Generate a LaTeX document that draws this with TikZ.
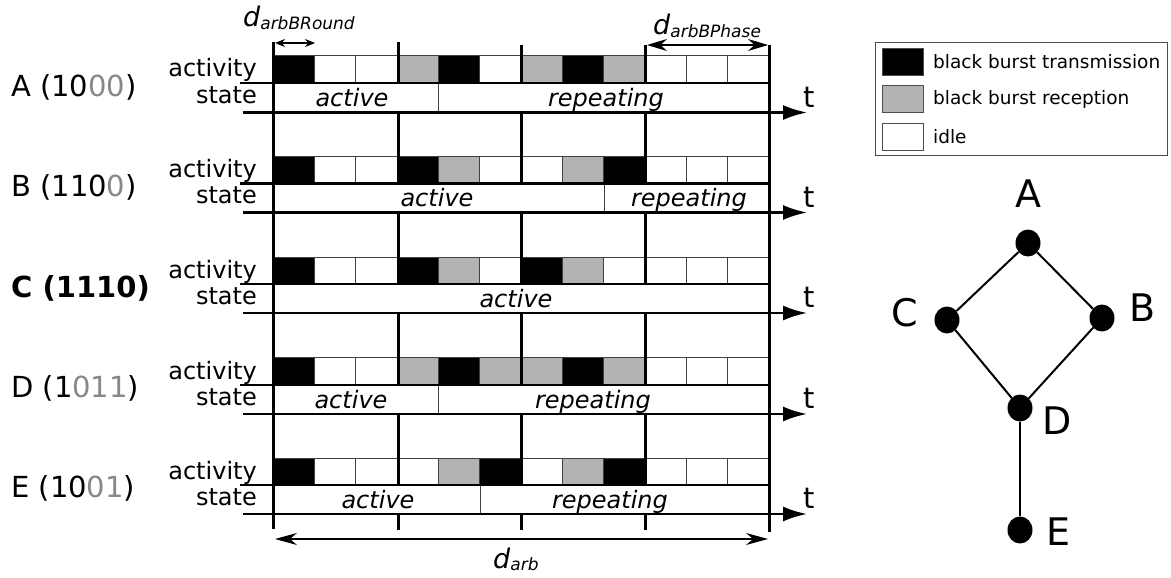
\documentclass[tikz,border=0pt]{standalone}
\usepackage{fontspec}
\setmainfont{DejaVu Sans}
\usetikzlibrary{arrows.meta,shapes.geometric}
\definecolor{bbgray}{HTML}{B3B3B3}
\definecolor{dgray}{HTML}{888888}
\newcommand\myfs[1]{\fontsize{#1}{#1}\selectfont}
\newcommand\cellrow[3]{%
  \foreach \c [count=\i from 0] in {#3}{%
    \draw[cell\c] ({273+41.333*\i},#1) rectangle ({273+41.333*(\i+1)},#2);}}
\newcommand\phaseseg[2]{%
  \draw[phaseline] (#1,#2) -- (#1,83);
  \draw[phaseline] (#1,112.5) -- (#1,183.5);
  \draw[phaseline] (#1,212.5) -- (#1,284);
  \draw[phaseline] (#1,313) -- (#1,385);
  \draw[phaseline] (#1,414) -- (#1,485);
  \draw[phaseline] (#1,514) -- (#1,530);}
\begin{document}
\begin{tikzpicture}[x=1pt,y=-1pt,
  cellK/.style={fill=black,draw=black!75,line width=0.8pt},
  cellG/.style={fill=bbgray,draw=black!75,line width=0.8pt},
  cellW/.style={fill=white,draw=black!75,line width=0.8pt},
  thickh/.style={line width=2.5pt},
  axisline/.style={line width=2.5pt,-{Latex[length=24pt,width=15pt]}},
  phaseline/.style={line width=3pt},
  divider/.style={line width=0.8pt,draw=black!75},
  rowlab/.style={inner sep=0pt,anchor=base east,font=\myfs{24}},
  statetxt/.style={inner sep=0pt,anchor=base,font=\myfs{24}\itshape},
  nodelab/.style={inner sep=0pt,anchor=base west,font=\myfs{29}},
  tlab/.style={inner sep=0pt,anchor=base west,font=\myfs{29}},
  dimarrow/.style={line width=1.2pt},
  gnode/.style={ellipse,fill=black,minimum width=25pt,minimum height=27pt,inner sep=0pt},
  glab/.style={inner sep=0pt,font=\myfs{38}},
  gedge/.style={line width=2pt},
  legtxt/.style={inner sep=0pt,anchor=west,font=\myfs{18.5}},
  legsw/.style={draw=black!70,line width=0.8pt}
]
\useasboundingbox (0,0) rectangle (1171,578);

% ---- row A ----
\cellrow{55}{83}{K,W,W,G,K,W,G,K,G,W,W,W}
\draw[divider] (438,83) -- (438,112.5);
\draw[thickh] (240,83) -- (769,83);
\draw[axisline] (243,112.5) -- (807,112.5);
\node[statetxt] (sA1) at (352,106.5) {active};
\node[statetxt] (sA2) at (606,106.5) {repeating};
\node[rowlab] (aA) at (257,77) {activity};
\node[rowlab] (stA) at (257,103.5) {state};
\node[nodelab] (lA) at (11,96) {A (10\textcolor{dgray}{00})};
\node[tlab] (tA) at (803,107) {t};

% ---- row B ----
\cellrow{156.5}{183.5}{K,W,W,K,G,W,W,G,K,W,W,W}
\draw[divider] (604,183.5) -- (604,212.5);
\draw[thickh] (240,183.5) -- (769,183.5);
\draw[axisline] (243,212.5) -- (807,212.5);
\node[statetxt] (sB1) at (437,206.5) {active};
\node[statetxt] (sB2) at (689,206.5) {repeating};
\node[rowlab] (aB) at (257,177.5) {activity};
\node[rowlab] (stB) at (257,203.5) {state};
\node[nodelab] (lB) at (11,196) {B (110\textcolor{dgray}{0})};
\node[tlab] (tB) at (803,207) {t};

% ---- row C ----
\cellrow{257}{284}{K,W,W,K,G,W,K,G,W,W,W,W}
\draw[thickh] (240,284) -- (769,284);
\draw[axisline] (243,313) -- (807,313);
\node[statetxt] (sC1) at (516,307) {active};
\node[rowlab] (aC) at (257,278) {activity};
\node[rowlab] (stC) at (257,304) {state};
\node[nodelab] (lC) at (11,297) {\bfseries C (1110)};
\node[tlab] (tC) at (803,307.5) {t};

% ---- row D ----
\cellrow{357.5}{385}{K,W,W,G,K,G,G,K,G,W,W,W}
\draw[divider] (438,385) -- (438,414);
\draw[thickh] (240,385) -- (769,385);
\draw[axisline] (243,414) -- (807,414);
\node[statetxt] (sD1) at (351,408) {active};
\node[statetxt] (sD2) at (593,408) {repeating};
\node[rowlab] (aD) at (257,379) {activity};
\node[rowlab] (stD) at (257,405) {state};
\node[nodelab] (lD) at (11,397) {D (1\textcolor{dgray}{011})};
\node[tlab] (tD) at (803,408.5) {t};

% ---- row E ----
\cellrow{458}{485}{K,W,W,W,G,K,W,G,K,W,W,W}
\draw[divider] (480,485) -- (480,514);
\draw[thickh] (240,485) -- (769,485);
\draw[axisline] (243,514) -- (807,514);
\node[statetxt] (sE1) at (378,508) {active};
\node[statetxt] (sE2) at (610,508) {repeating};
\node[rowlab] (aE) at (257,479) {activity};
\node[rowlab] (stE) at (257,505) {state};
\node[nodelab] (lE) at (11,497) {E (10\textcolor{dgray}{01})};
\node[tlab] (tE) at (803,508.5) {t};

% ---- phase boundaries ----
\draw[phaseline] (273,42) -- (273,529);
\phaseseg{398}{42}
\phaseseg{521}{45}
\phaseseg{645}{45}
\draw[phaseline] (769,45) -- (769,532);

% ---- dimension arrows ----
\coordinate (r1) at (275,43);
\coordinate (r2) at (315,43);
\draw[dimarrow,{Stealth[length=10pt,width=8pt]}-{Stealth[length=10pt,width=8pt]}] (r1) -- (r2);
\node[inner sep=0pt,anchor=base west] (dR) at (243,27) {\myfs{27}\itshape d\raisebox{-3pt}{\myfs{17}arbBRound}};

\coordinate (p1) at (647,45);
\coordinate (p2) at (768,45);
\draw[dimarrow,{Stealth[length=20pt,width=12pt]}-{Stealth[length=20pt,width=12pt]}] (p1) -- (p2);
\node[inner sep=0pt,anchor=base west] (dP) at (653,35) {\myfs{27}\itshape d\raisebox{-3pt}{\myfs{17}arbBPhase}};

\coordinate (b1) at (275,539);
\coordinate (b2) at (768,539);
\draw[dimarrow,{Stealth[length=22pt,width=12pt]}-{Stealth[length=22pt,width=12pt]}] (b1) -- (b2);
\node[inner sep=0pt,anchor=base west] (dA) at (493,568) {\myfs{27}\itshape d\raisebox{-2pt}{\myfs{17}arb}};

% ---- legend ----
\draw[draw=black!70,line width=1pt] (875,43) rectangle (1167,155);
\draw[legsw,fill=black] (882,48) rectangle (923,75);
\draw[legsw,fill=bbgray] (882,85) rectangle (923,112);
\draw[legsw,fill=white] (882,123) rectangle (923,150);
\node[legtxt] (L1) at (933,62) {black burst transmission};
\node[legtxt] (L2) at (933,99) {black burst reception};
\node[legtxt] (L3) at (933,137) {idle};

% ---- graph ----
\node[gnode] (A) at (1028,243) {};
\node[gnode] (C) at (947,320) {};
\node[gnode] (B) at (1102,318) {};
\node[gnode] (D) at (1020,408) {};
\node[gnode] (E) at (1020,530) {};
\draw[gedge] (A) -- (C);
\draw[gedge] (A) -- (B);
\draw[gedge] (C) -- (D);
\draw[gedge] (B) -- (D);
\draw[gedge] (D) -- (E);
\node[glab] (nA) at (1028,194) {A};
\node[glab] (nC) at (905,313) {C};
\node[glab] (nB) at (1143,308) {B};
\node[glab] (nD) at (1057,421) {D};
\node[glab] (nE) at (1058,532) {E};
\end{tikzpicture}
\end{document}
